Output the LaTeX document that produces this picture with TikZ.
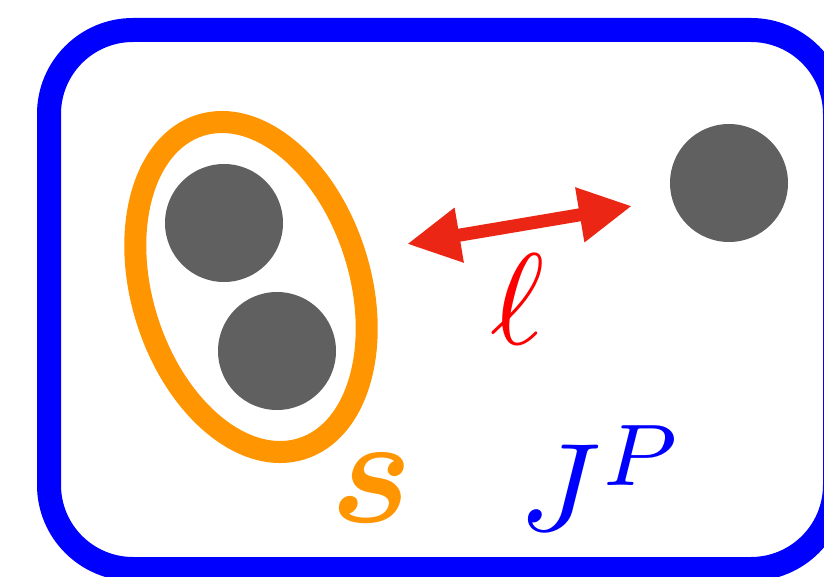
\documentclass[tikz,border=0pt]{standalone}
\usepackage{amsmath,bm}
\usetikzlibrary{arrows.meta,shapes.geometric}
\definecolor{boxblue}{RGB}{0,0,255}
\definecolor{ringorange}{RGB}{255,149,0}
\definecolor{dotgray}{RGB}{96,96,96}
\definecolor{arrowred}{RGB}{235,38,20}
\begin{document}
\begin{tikzpicture}[x=1pt,y=-1pt,
  particle/.style={circle,fill=dotgray,minimum size=118pt,inner sep=0pt},
  ring/.style={ellipse,draw=ringorange,line width=22pt,inner sep=0pt,outer sep=0pt},
  lenarrow/.style={draw=arrowred,line width=13pt,{Triangle[length=53pt,width=52pt]}-{Triangle[length=53pt,width=52pt]}}
]
\useasboundingbox (0,0) rectangle (824,577);
\begin{scope}
\clip (0,0) rectangle (824,577);
\draw[boxblue,line width=24pt,rounded corners=84pt] (49,30) rectangle (835,569);
\end{scope}
\node[particle] (p1) at (224,223) {};
\node[particle] (p2) at (277,351) {};
\node[particle] (p3) at (729,183) {};
\node[ring,minimum width=218pt,minimum height=339pt,rotate=17.4] (ring) at (251,287) {};
\coordinate (a1) at (407,244);
\coordinate (a2) at (632,206);
\draw[lenarrow] (a1) -- (a2);
\node[text=red,scale=13,inner sep=0pt] (ell) at (518,299) {$\ell$};
\node[text=ringorange,scale=15.5,inner sep=0pt] (s) at (372,488) {$\bm{s}$};
\node[text=boxblue,scale=12.5,inner sep=0pt] (jp) at (602,478) {$J^P$};
\end{tikzpicture}
\end{document}
